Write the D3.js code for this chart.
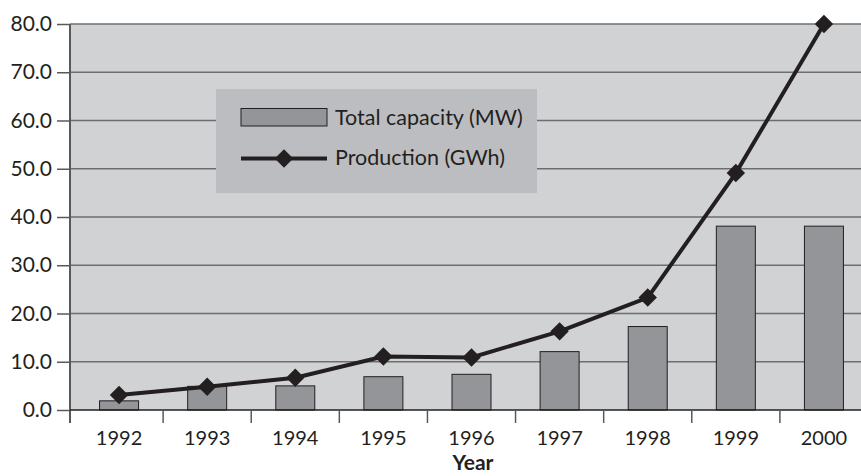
<!DOCTYPE html>
<html><head><meta charset="utf-8">
<script src="https://cdn.jsdelivr.net/npm/d3@7"></script>
<style>body{margin:0;background:#fff}svg{display:block}text{font-family:Lato,"Open Sans",sans-serif;fill:#231f20}</style>
</head><body>
<svg id="c" width="861" height="476"></svg>
<script>
const years = ["1992","1993","1994","1995","1996","1997","1998","1999","2000"];
const capacity = [1.9, 4.9, 5.0, 6.9, 7.4, 12.1, 17.3, 38.1, 38.1];
const production = [3.1, 4.8, 6.7, 11.1, 10.9, 16.3, 23.3, 49.1, 80.0];
const yTicks = [0,10,20,30,40,50,60,70,80];
const seriesNames = ["Total capacity (MW)", "Production (GWh)"];
const xTitle = "Year";

const svg = d3.select("#c");
const L = 70, R = 861, T = 24, B = 410;
const xs = d3.scaleBand().domain(years).range([75, 868]);
const y = d3.scaleLinear().domain([0, 80]).range([B, T]);

svg.append("rect").attr("x", L).attr("y", T).attr("width", R - L).attr("height", B - T).attr("fill", "#d1d2d4");

// gridlines
svg.append("g").selectAll("line").data(yTicks.filter(d => d > 0)).join("line")
  .attr("x1", L).attr("x2", R).attr("y1", d => y(d)).attr("y2", d => y(d))
  .attr("stroke", "#6d6e71").attr("stroke-width", 1.5);

// legend box
const lg = svg.append("g");
lg.append("rect").attr("x", 216).attr("y", 89).attr("width", 321).attr("height", 104).attr("fill", "#bcbdc0");

// bars
svg.append("g").selectAll("rect").data(years).join("rect")
  .attr("x", d => xs(d) + xs.bandwidth()/2 - 19.5).attr("width", 39)
  .attr("y", (d, i) => y(capacity[i])).attr("height", (d, i) => B - y(capacity[i]))
  .attr("fill", "#949598").attr("stroke", "#231f20").attr("stroke-width", 1);

// axes
const yAxis = d3.axisLeft(y).tickValues(yTicks).tickFormat(d3.format(".1f")).tickSize(13).tickPadding(5);
const ga = svg.append("g").attr("transform", `translate(${L},0)`).call(yAxis);
ga.select(".domain").remove();
ga.selectAll(".tick line").attr("stroke", "#58595b").attr("stroke-width", 1.5);
ga.selectAll(".tick text").attr("font-size", 21).style("font-family", "Lato, sans-serif").attr("fill", "#231f20");

svg.append("line").attr("x1", L).attr("x2", L).attr("y1", T).attr("y2", B + 13).attr("stroke", "#58595b").attr("stroke-width", 2);
svg.append("line").attr("x1", L).attr("x2", R).attr("y1", B).attr("y2", B).attr("stroke", "#231f20").attr("stroke-width", 1.5);

// x ticks at band boundaries
svg.append("g").selectAll("line").data(years.slice(1)).join("line")
  .attr("x1", d => xs(d)).attr("x2", d => xs(d)).attr("y1", B).attr("y2", B + 13)
  .attr("stroke", "#58595b").attr("stroke-width", 1.5);
svg.append("g").selectAll("text").data(years).join("text")
  .attr("x", d => xs(d) + xs.bandwidth()/2).attr("y", 445)
  .attr("text-anchor", "middle").attr("font-size", 20).text(d => d);
svg.append("text").attr("x", 473).attr("y", 470).attr("text-anchor", "middle")
  .attr("font-size", 21).attr("font-weight", "bold").text(xTitle);

// line
const cx = d => xs(d) + xs.bandwidth()/2;
const line = d3.line().x((d, i) => cx(years[i])).y(d => y(d));
svg.append("path").datum(production).attr("d", line).attr("fill", "none")
  .attr("stroke", "#231f20").attr("stroke-width", 4);
svg.append("g").selectAll("path").data(production).join("path")
  .attr("transform", (d, i) => `translate(${cx(years[i])},${y(d)}) rotate(45)`)
  .attr("d", d3.symbol().type(d3.symbolSquare).size(170)).attr("fill", "#231f20");

// legend items
lg.append("rect").attr("x", 241).attr("y", 108.5).attr("width", 86).attr("height", 17.5)
  .attr("fill", "#949598").attr("stroke", "#231f20").attr("stroke-width", 1);
lg.append("text").attr("x", 335).attr("y", 125).attr("font-size", 21.5).text(seriesNames[0]);
lg.append("line").attr("x1", 241).attr("x2", 327).attr("y1", 158.5).attr("y2", 158.5)
  .attr("stroke", "#231f20").attr("stroke-width", 4);
lg.append("path").attr("transform", "translate(284,158.5) rotate(45)")
  .attr("d", d3.symbol().type(d3.symbolSquare).size(170)).attr("fill", "#231f20");
lg.append("text").attr("x", 335).attr("y", 165).attr("font-size", 21.5).text(seriesNames[1]);
</script>
</body></html>
